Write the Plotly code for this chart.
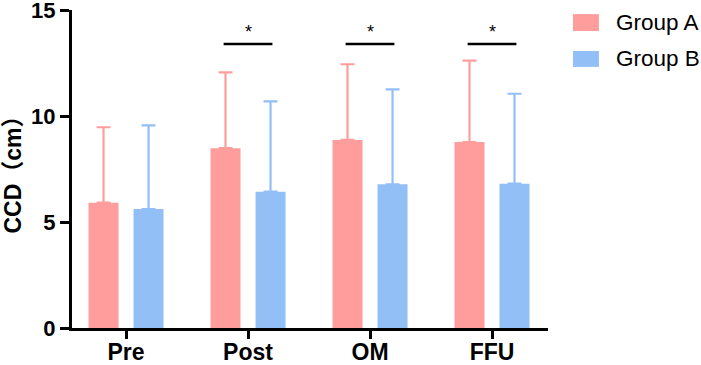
import plotly.graph_objects as go

categories = ["Pre", "Post", "OM", "FFU"]
group_a_mean = [5.91, 8.48, 8.87, 8.77]
group_a_sd = [3.56, 3.58, 3.57, 3.84]
group_b_mean = [5.61, 6.43, 6.78, 6.81]
group_b_sd = [3.95, 4.26, 4.48, 4.24]
sig_categories = ["Post", "OM", "FFU"]
sig_labels = ["*", "*", "*"]
sig_level = 13.4
y_ticks = [0, 5, 10, 15]

COL_A = "#FF9D9D"
COL_B = "#93BFF7"
FONT = "Arial, Liberation Sans, Noto Sans CJK SC, sans-serif"

fig = go.Figure()
fig.add_trace(go.Bar(
    x=categories, y=group_a_mean, name="Group A", marker=dict(color=COL_A, line=dict(width=0)),
    error_y=dict(type="data", array=group_a_sd, arrayminus=[0] * 4, symmetric=False,
                 color=COL_A, thickness=2.2, width=7),
))
fig.add_trace(go.Bar(
    x=categories, y=group_b_mean, name="Group B", marker=dict(color=COL_B, line=dict(width=0)),
    error_y=dict(type="data", array=group_b_sd, arrayminus=[0] * 4, symmetric=False,
                 color=COL_B, thickness=2.2, width=7),
))

shapes = []
annotations = []
for cat, lab in zip(sig_categories, sig_labels):
    i = categories.index(cat)
    shapes.append(dict(type="line", xref="x", yref="y", x0=i - 0.2, x1=i + 0.2,
                       y0=sig_level, y1=sig_level, line=dict(color="black", width=2.5)))
    annotations.append(dict(xref="x", yref="y", x=i, y=sig_level + 0.55, text=lab,
                            showarrow=False, font=dict(size=18, color="black", family=FONT),
                            xanchor="center", yanchor="middle"))

# manual legend
legend_items = [("Group A", COL_A, 0.987, 0.934), ("Group B", COL_B, 0.871, 0.821)]
for name, col, ytop, ybot in legend_items:
    shapes.append(dict(type="rect", xref="paper", yref="paper", x0=1.0525, x1=1.107,
                       y0=ybot, y1=ytop, fillcolor=col, line=dict(width=0)))
    annotations.append(dict(xref="paper", yref="paper", x=1.1387, y=(ytop + ybot) / 2,
                            text=name, showarrow=False, xanchor="left", yanchor="middle",
                            font=dict(size=22.5, color="black", family=FONT)))

fig.update_layout(
    width=701, height=365,
    margin=dict(l=72, r=153, t=10, b=37, autoexpand=False),
    paper_bgcolor="white", plot_bgcolor="white",
    barmode="group", bargap=0.262, bargroupgap=1 / 3,
    showlegend=False,
    shapes=shapes, annotations=annotations,
    font=dict(family=FONT, color="black"),
)
fig.update_xaxes(
    range=[-0.443, 3.459], showline=True, linecolor="black", linewidth=3,
    ticks="outside", ticklen=8, tickwidth=3, tickcolor="black",
    tickfont=dict(size=23, color="black"), ticklabelstandoff=-7,
    showgrid=False, zeroline=False, ticklabeloverflow="allow",
    tickvals=categories, ticktext=[f"<b>{c}</b>" for c in categories],
)
fig.update_yaxes(
    range=[0, 15], tickvals=y_ticks, ticktext=[f"<b>{v}</b>" for v in y_ticks],
    showline=True, linecolor="black", linewidth=3,
    ticks="outside", ticklen=9, tickwidth=3, tickcolor="black",
    tickfont=dict(size=22, color="black"),
    showgrid=False, zeroline=False, ticklabeloverflow="allow",
    title=dict(text="<b>CCD（cm）</b>", font=dict(size=23, color="black"), standoff=4),
)

fig.write_html("out.html", config={"displayModeBar": False},
               post_script="document.body.style.margin='0px';document.body.style.padding='0px';")
